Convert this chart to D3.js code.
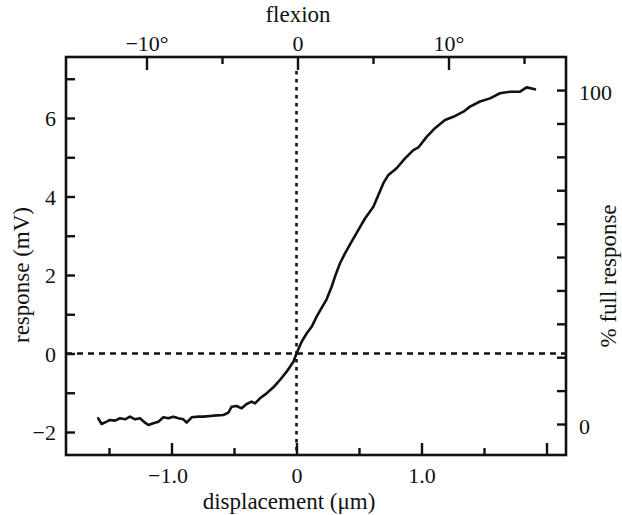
<!DOCTYPE html>
<html>
<head>
<meta charset="utf-8">
<script src="https://cdn.jsdelivr.net/npm/d3@7"></script>
<style>
  html, body { margin: 0; padding: 0; background: #fff; }
  svg { display: block; }
  text { font-family: "Liberation Serif", "Times New Roman", serif; fill: #111; }
</style>
</head>
<body>
<svg id="chart" width="622" height="515"></svg>
<script>
// ---- data ----
const displacement = [
  -1.586, -1.559, -1.519, -1.492, -1.452, -1.412, -1.372, -1.332, -1.292, -1.252,
  -1.212, -1.185, -1.145, -1.105, -1.065, -1.025, -0.985, -0.945, -0.905, -0.879,
  -0.839, -0.785, -0.745, -0.665, -0.585, -0.545, -0.519, -0.479, -0.439, -0.399,
  -0.359, -0.332, -0.292, -0.239, -0.185, -0.132, -0.079, -0.025, 0.000,
  0.041, 0.081, 0.121, 0.161, 0.201, 0.241, 0.281, 0.308, 0.348, 0.388,
  0.441, 0.495, 0.548, 0.615, 0.655, 0.695, 0.735, 0.801, 0.868, 0.935,
  0.975, 1.041, 1.108, 1.188, 1.255, 1.335, 1.388, 1.468, 1.548, 1.628,
  1.708, 1.788, 1.841, 1.908
];
const responseMV = [
  -1.651, -1.796, -1.737, -1.694, -1.711, -1.651, -1.677, -1.609, -1.677, -1.651,
  -1.762, -1.822, -1.779, -1.737, -1.626, -1.651, -1.609, -1.651, -1.677, -1.762,
  -1.626, -1.609, -1.609, -1.584, -1.567, -1.507, -1.355, -1.338, -1.397, -1.287,
  -1.227, -1.270, -1.142, -1.015, -0.862, -0.675, -0.463, -0.208, 0.00,
  0.30, 0.51, 0.68, 0.94, 1.16, 1.38, 1.70, 1.96, 2.30, 2.55,
  2.85, 3.15, 3.44, 3.74, 4.04, 4.34, 4.55, 4.72, 4.97, 5.18,
  5.25, 5.52, 5.74, 5.95, 6.03, 6.16, 6.29, 6.42, 6.50, 6.63,
  6.67, 6.67, 6.78, 6.73
];

const xMajorTicks = [-1, 0, 1, 2];
const xMinorTicks = [-1.5, -0.5, 0.5, 1.5];
const xTickLabels = {"-1": "\u22121.0", "0": "0", "1": "1.0"};

const flexMajorTicks = [-10, 0, 10];
const flexMinorTicks = [-5, 5, 15];
const flexTickLabels = {"-10": "\u221210\u00b0", "0": "0", "10": "10\u00b0"};

const yTicks = [-2, -1, 0, 1, 2, 3, 4, 5, 6, 7];
const yTickLabels = {"-2": "\u22122", "0": "0", "2": "2", "4": "4", "6": "6"};

const pctTicks = [0, 10, 20, 30, 40, 50, 60, 70, 80, 90, 100];
const pctTickLabels = {"0": "0", "100": "100"};

const titles = {
  top: "flexion",
  bottom: "displacement (\u03bcm)",
  left: "response (mV)",
  right: "% full response"
};

// ---- layout ----
const L = 66, R = 566, T = 57, B = 455;
const svg = d3.select("#chart");
const FS = 22, TFS = 23;

const x = d3.scaleLinear().domain([-1.844, 2.156]).range([L, R]);
const xf = d3.scaleLinear().domain([-15.33, 17.78]).range([L, R]);
const y = d3.scaleLinear().domain([-2.586, 7.554]).range([B, T]);
const yp = d3.scaleLinear().domain([-9.28, 109.9]).range([B, T]);

function styleAxis(g) {
  g.select(".domain").remove();
  g.selectAll(".tick line").attr("stroke", "#111").attr("stroke-width", 2.4);
  g.selectAll("text").style("font-size", FS + "px").attr("fill", "#111")
    .style("font-family", '"Liberation Serif", "Times New Roman", serif');
}

// reference dotted lines (zero lines)
svg.append("line")
  .attr("x1", x(0)).attr("x2", x(0)).attr("y1", T + 14).attr("y2", B)
  .attr("stroke", "#111").attr("stroke-width", 2.6).attr("stroke-dasharray", "3.5,4.5");
svg.append("line")
  .attr("x1", L).attr("x2", R).attr("y1", y(0)).attr("y2", y(0))
  .attr("stroke", "#111").attr("stroke-width", 2.4).attr("stroke-dasharray", "6,5");

// bottom axis
const gbMinor = svg.append("g").attr("transform", `translate(0,${B})`)
  .call(d3.axisBottom(x).tickValues(xMinorTicks).tickSize(-7).tickFormat(""));
styleAxis(gbMinor);
const gbMajor = svg.append("g").attr("transform", `translate(0,${B})`)
  .call(d3.axisBottom(x).tickValues(xMajorTicks).tickSize(-12)
    .tickFormat(d => xTickLabels[String(d)] || ""));
styleAxis(gbMajor);
gbMajor.selectAll("text").attr("y", 28).attr("dy", null)
  .attr("dx", d => d < 0 ? -4 : 0);

// top axis
const gtMinor = svg.append("g").attr("transform", `translate(0,${T})`)
  .call(d3.axisTop(xf).tickValues(flexMinorTicks).tickSize(-7).tickFormat(""));
styleAxis(gtMinor);
const gtMajor = svg.append("g").attr("transform", `translate(0,${T})`)
  .call(d3.axisTop(xf).tickValues(flexMajorTicks).tickSize(-13)
    .tickFormat(d => flexTickLabels[String(d)] || ""));
styleAxis(gtMajor);
gtMajor.selectAll("text").attr("y", -6).attr("dy", null);

// left axis
const gl = svg.append("g").attr("transform", `translate(${L},0)`)
  .call(d3.axisLeft(y).tickValues(yTicks).tickSize(-9)
    .tickFormat(d => yTickLabels[String(d)] || ""));
styleAxis(gl);
gl.selectAll("text").attr("x", -10).attr("dy", null).attr("y", 8);

// right axis
const gr = svg.append("g").attr("transform", `translate(${R},0)`)
  .call(d3.axisRight(yp).tickValues(pctTicks).tickSize(-9)
    .tickFormat(d => pctTickLabels[String(d)] || ""));
styleAxis(gr);
gr.selectAll("text").attr("x", 13).attr("dy", null).attr("y", 9);

// frame
svg.append("rect")
  .attr("x", L).attr("y", T).attr("width", R - L).attr("height", B - T)
  .attr("fill", "none").attr("stroke", "#111").attr("stroke-width", 2.6);

// curve
const pts = displacement.map((d, i) => [d, responseMV[i]]);
svg.append("path")
  .datum(pts)
  .attr("fill", "none").attr("stroke", "#111").attr("stroke-width", 2.6)
  .attr("stroke-linejoin", "round").attr("stroke-linecap", "round")
  .attr("d", d3.line().x(d => x(d[0])).y(d => y(d[1])));

// titles
svg.append("text").attr("x", 298).attr("y", 22).attr("text-anchor", "middle")
  .style("font-size", TFS + "px").text(titles.top);
svg.append("text").attr("x", 289).attr("y", 509).attr("text-anchor", "middle")
  .style("font-size", TFS + "px").text(titles.bottom);
svg.append("text").attr("transform", "translate(29,275) rotate(-90)")
  .attr("text-anchor", "middle").style("font-size", TFS + "px").text(titles.left);
svg.append("text").attr("transform", "translate(616,276) rotate(-90)")
  .attr("text-anchor", "middle").style("font-size", TFS + "px").text(titles.right);
</script>
</body>
</html>
